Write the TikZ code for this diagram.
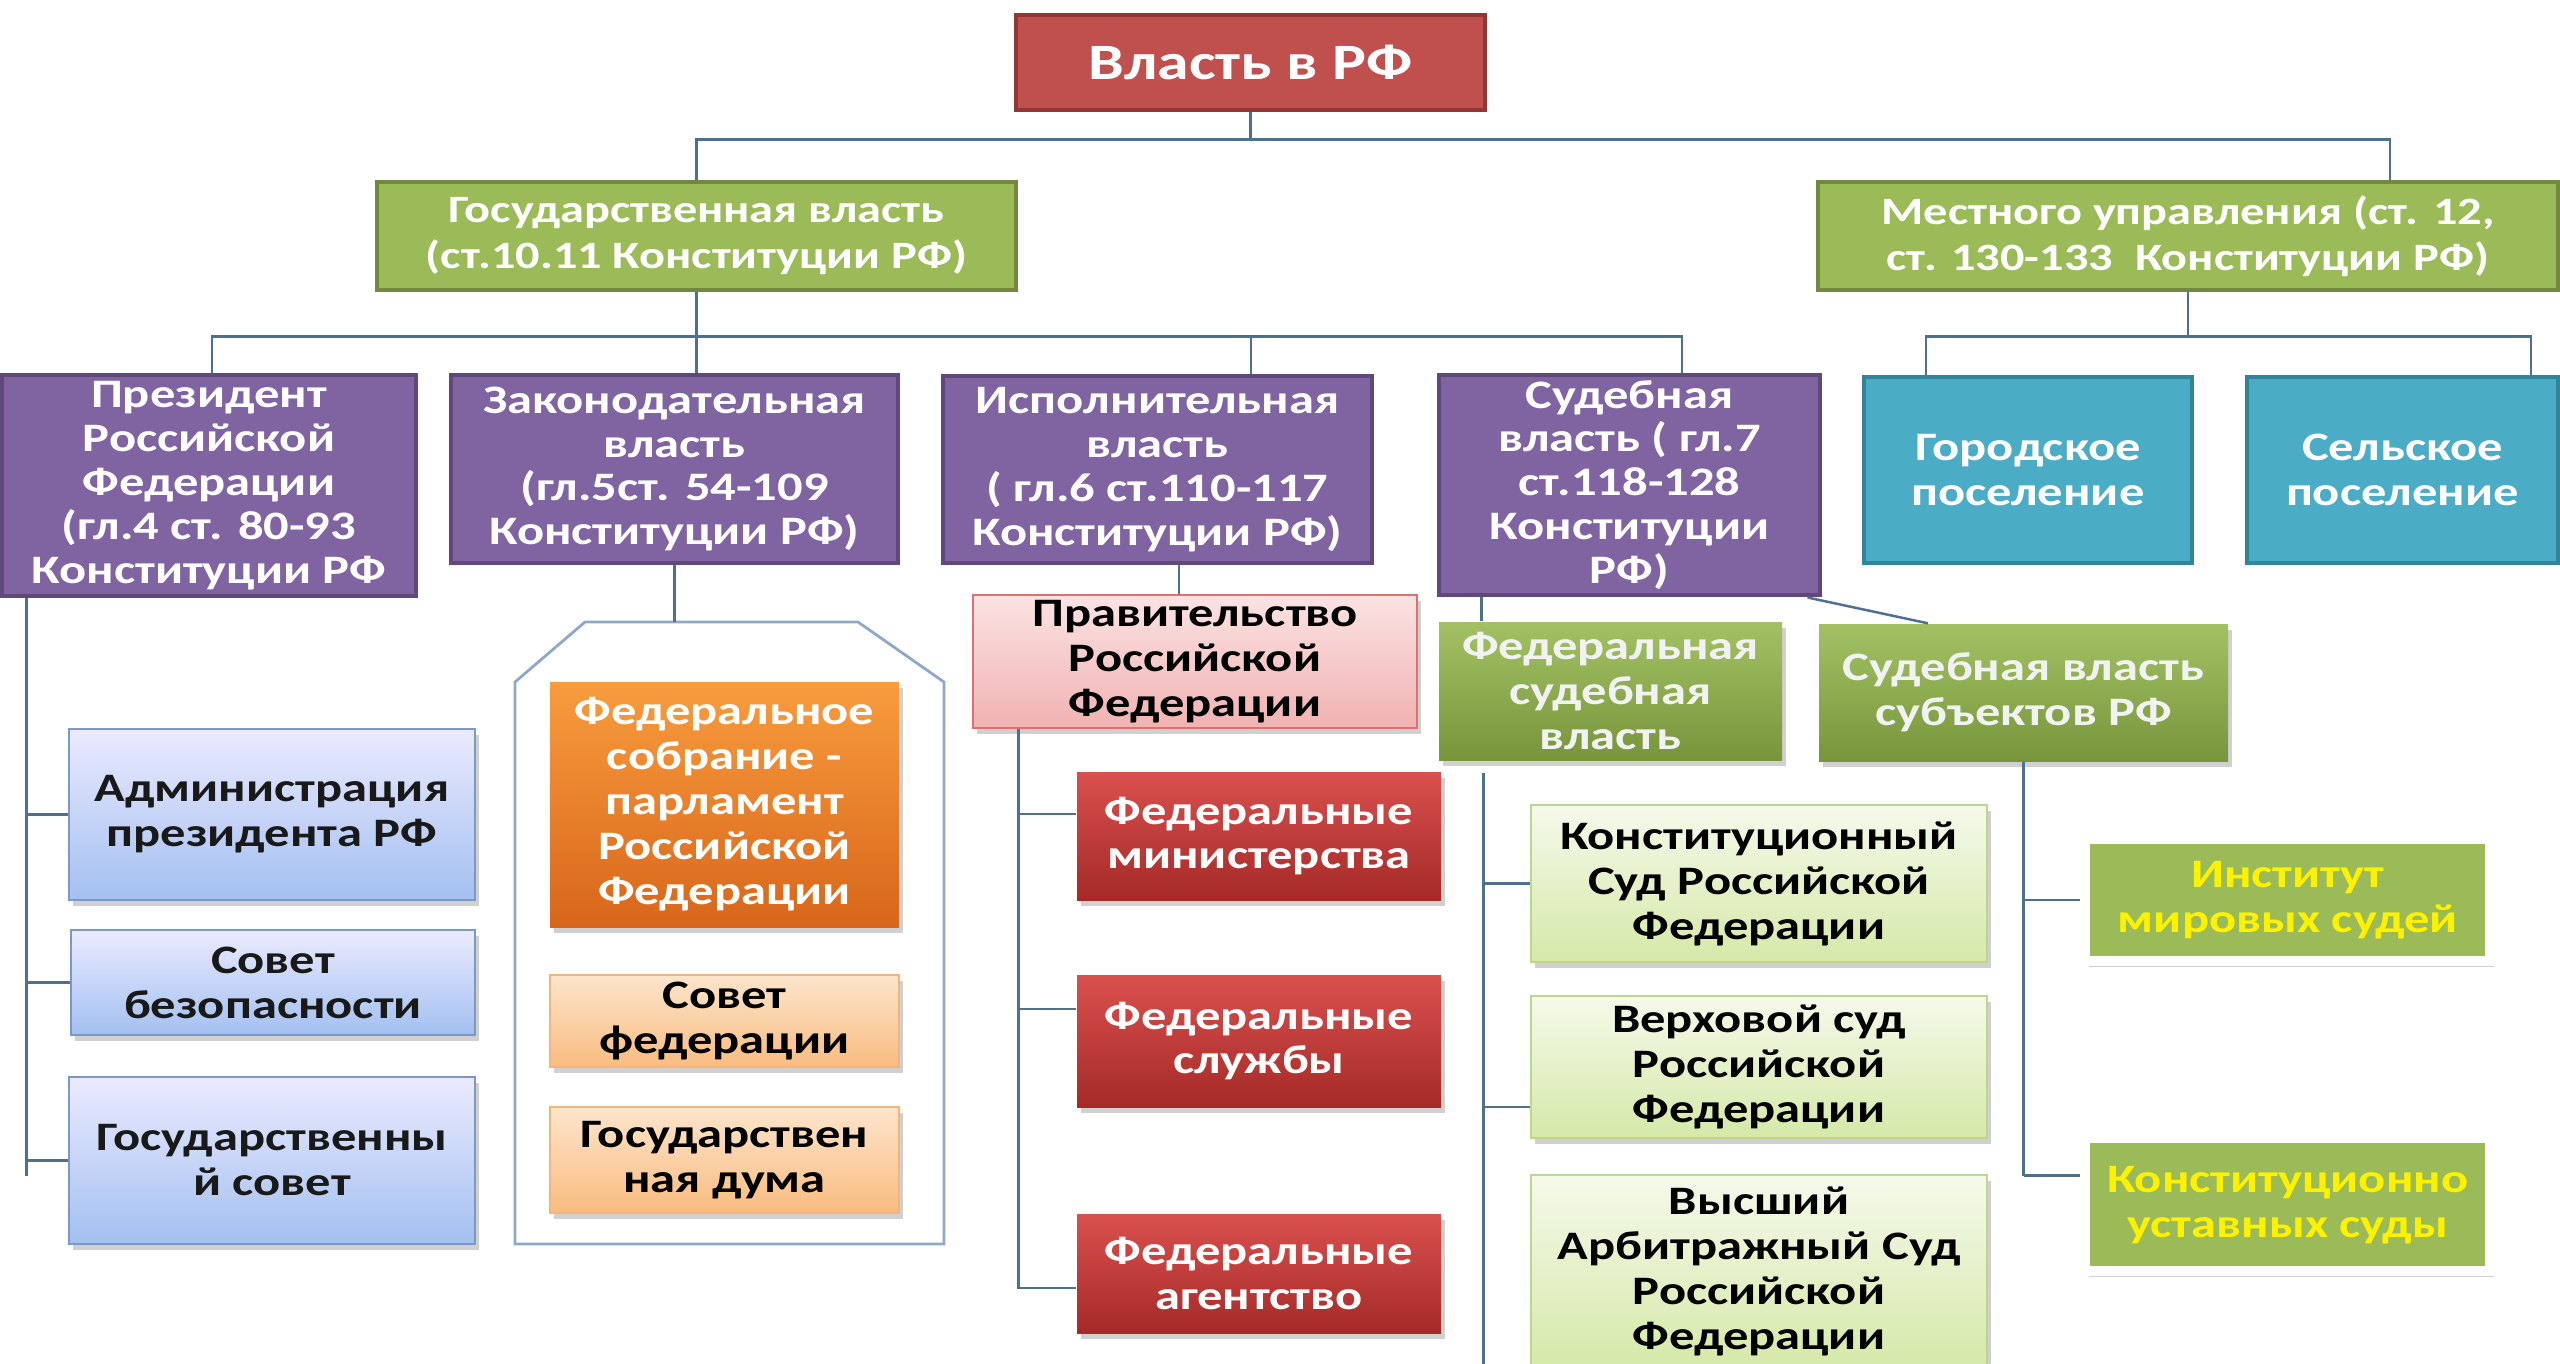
\documentclass[tikz,border=0pt]{standalone}
\usepackage{fontspec}
\setmainfont{Carlito}[FakeStretch=1.25]
\usetikzlibrary{shadows}
\definecolor{linegray}{HTML}{4F6F8F}
\definecolor{titlered}{HTML}{C0504D}
\definecolor{titleedge}{HTML}{943634}
\definecolor{olive}{HTML}{9BBB59}
\definecolor{oliveedge}{HTML}{71893F}
\definecolor{violet}{HTML}{8064A2}
\definecolor{violetedge}{HTML}{5F497A}
\definecolor{teal}{HTML}{4BACC6}
\definecolor{tealedge}{HTML}{31849B}
\definecolor{frameblue}{HTML}{8EA9C8}

\begin{document}
\begin{tikzpicture}[x=0.1mm,y=-0.1mm,
  every node/.style={font=\bfseries,align=center,inner sep=0pt},
  sz/.style 2 args={minimum width=#1cm,minimum height=#2cm},
  conn/.style={draw=linegray,line width=0.7pt},
  shad/.style={drop shadow={shadow xshift=0.4mm,shadow yshift=-0.6mm,opacity=0.3,fill=black!60}},
  headbox/.style={fill=titlered,draw=titleedge,line width=1.4pt,text=white,font=\fontsize{14.5}{16}\selectfont\bfseries},
  levelbox/.style={fill=olive,draw=oliveedge,line width=1.4pt,text=white,font=\fontsize{11}{13}\selectfont\bfseries},
  branchbox/.style={fill=violet,draw=violetedge,line width=1.4pt,text=white,font=\fontsize{11.5}{12.5}\selectfont\bfseries},
  townbox/.style={fill=teal,draw=tealedge,line width=1.4pt,text=white,font=\fontsize{11.5}{13}\selectfont\bfseries},
  lowbox/.style={shad,font=\fontsize{11.5}{12.8}\selectfont\bfseries},
  bluebox/.style={lowbox,top color=blue!8!white,bottom color={rgb,255:red,163;green,192;blue,240},draw={rgb,255:red,124;green,152;blue,196},text=black!90},
  parlbox/.style={lowbox,top color={rgb,255:red,248;green,156;blue,62},bottom color={rgb,255:red,216;green,102;blue,26},text=white},
  chamberbox/.style={lowbox,top color={rgb,255:red,253;green,229;blue,204},bottom color={rgb,255:red,249;green,188;blue,128},draw={rgb,255:red,245;green,181;blue,122},text=black},
  govbox/.style={lowbox,top color={rgb,255:red,251;green,227;blue,227},bottom color={rgb,255:red,241;green,178;blue,178},draw={rgb,255:red,224;green,112;blue,112},text=black},
  agencybox/.style={lowbox,top color={rgb,255:red,217;green,80;blue,78},bottom color={rgb,255:red,165;green,42;blue,39},text=white},
  courtbox/.style={lowbox,top color={rgb,255:red,163;green,193;blue,100},bottom color={rgb,255:red,119;green,150;blue,60},text=white!95!black},
  highbox/.style={lowbox,top color={rgb,255:red,245;green,249;blue,235},bottom color={rgb,255:red,213;green,233;blue,168},draw={rgb,255:red,188;green,214;blue,142},text=black},
  peacebox/.style={lowbox,fill=olive,draw=white,line width=3pt,text=yellow}]

  \useasboundingbox[fill=white] (0,0) rectangle (2560,1363);

  % top
  \node[headbox,sz={4.69}{0.95}] (vlast) at (1250.5,62.5) {Власть в РФ};
  \node[levelbox,sz={6.39}{1.08}] (gos) at (696.5,236) {Государственная власть\\(ст.10.11 Конституции РФ)};
  \node[levelbox,sz={7.40}{1.08}] (mest) at (2188,236) {Местного управления (ст. 12,\\ст. 130-133~ Конституции РФ)};

  % branches of state power
  \node[branchbox,sz={4.14}{2.21}] (pres) at (209,485.5) {Президент\\Российской\\Федерации\\(гл.4 ст. 80-93\\Конституции РФ};
  \node[branchbox,sz={4.47}{1.88}] (zak) at (674.5,469) {Законодательная\\власть\\(гл.5ст. 54-109\\Конституции РФ)};
  \node[branchbox,sz={4.29}{1.87}] (isp) at (1157.5,469.5) {Исполнительная\\власть\\( гл.6 ст.110-117\\Конституции РФ)};
  \node[branchbox,sz={3.81}{2.20}] (sud) at (1629.5,485) {Судебная\\власть ( гл.7\\ст.118-128\\Конституции\\РФ)};
  \node[townbox,sz={3.28}{1.86}] (gor) at (2028,470) {Городское\\поселение};
  \node[townbox,sz={3.11}{1.86}] (sel) at (2402.5,470) {Сельское\\поселение};

  % president
  \node[bluebox,sz={4.06}{1.71}] (adm) at (272,814.5) {Администрация\\президента РФ};
  \node[bluebox,sz={4.04}{1.05}] (sovbez) at (273,982.5) {Совет\\безопасности};
  \node[bluebox,sz={4.06}{1.67}] (gossov) at (272,1160.5) {Государственны\\й совет};

  % parliament
  \draw[frameblue,line width=0.8pt] (515,1244) -- (515,682) -- (585,622) -- (858,622) -- (944,682) -- (944,1244) -- cycle;
  \coordinate (parltop) at (674.5,622);
  \node[parlbox,sz={3.49}{2.45}] (fedsob) at (724.5,804.5) {Федеральное\\собрание -\\парламент\\Российской\\Федерации};
  \node[chamberbox,sz={3.49}{0.92}] (sovfed) at (724.5,1021) {Совет\\федерации};
  \node[chamberbox,sz={3.49}{1.06}] (duma) at (724.5,1160) {Государствен\\ная дума};

  % government
  \node[govbox,sz={4.44}{1.33}] (prav) at (1195,661.5) {Правительство\\Российской\\Федерации};
  \node[agencybox,sz={3.64}{1.28}] (minist) at (1259,836) {Федеральные\\министерства};
  \node[agencybox,sz={3.64}{1.32}] (sluzh) at (1259,1041) {Федеральные\\службы};
  \node[agencybox,sz={3.64}{1.19}] (agent) at (1259,1273.5) {Федеральные\\агентство};

  % courts
  \node[courtbox,sz={3.43}{1.38}] (fedsud) at (1610.5,691) {Федеральная\\судебная\\власть};
  \node[courtbox,sz={4.09}{1.37}] (subj) at (2023.5,692.5) {Судебная власть\\субъектов РФ};
  \node[highbox,sz={4.56}{1.57}] (ks) at (1759,883.5) {Конституционный\\Суд Российской\\Федерации};
  \node[highbox,sz={4.56}{1.42}] (vs) at (1759,1067) {Верховой суд\\Российской\\Федерации};
  \node[highbox,sz={4.56}{1.93}] (vas) at (1759,1271.5) {Высший\\Арбитражный Суд\\Российской\\Федерации};
  \node[peacebox,sz={4.05}{1.22}] (inst) at (2287.7,900) {Институт\\мировых судей};
  \node[peacebox,sz={4.05}{1.33}] (kus) at (2287.7,1204.7) {Конституционно\\уставных суды};

  % connectors
  \draw[conn] (vlast.south) -- ++(0,27) coordinate (b1);
  \draw[conn] (b1) -| (gos.north);
  \draw[conn] (b1) -| ([xshift=2.02cm]mest.north);
  \draw[conn] (gos.south) -- (gos.south |- zak.north);
  \path (gos.south) ++(0,44) coordinate (b2);
  \draw[conn] (b2) -| ([xshift=0.03cm]pres.north);
  \draw[conn] (b2) -| ([xshift=0.935cm]isp.north);
  \draw[conn] (b2) -| ([xshift=0.525cm]sud.north);
  \draw[conn] (mest.south) -- ++(0,44) coordinate (b3);
  \draw[conn] (b3) -| ([xshift=-1.02cm]gor.north);
  \draw[conn] (b3) -| ([xshift=1.285cm]sel.north);

  \coordinate (p1) at ([xshift=0.27cm]pres.south west);
  \draw[conn] (p1) -- ++(0,578);
  \foreach \n in {adm,sovbez,gossov}
    \draw[conn] (p1 |- \n.west) -- (\n.west);

  \draw[conn] (zak.south) -- (parltop);

  \draw[conn] ([xshift=0.215cm]isp.south) -- ([xshift=0.215cm]isp.south |- prav.north);
  \coordinate (p2) at ([xshift=0.46cm]prav.south west);
  \draw[conn] (p2) -- ++(0,560);
  \foreach \n/\dy in {minist/0.22,sluzh/0.32,agent/-0.145}{
    \coordinate (hook) at ([yshift=\dy cm]\n.west);
    \draw[conn] (p2 |- hook) -- (hook);
  }

  \draw[conn] ([xshift=0.45cm]sud.south west) -- ([xshift=0.45cm]sud.south west |- fedsud.north);
  \draw[conn] ([xshift=-0.15cm]sud.south east) -- ([xshift=-0.955cm]subj.north);
  \coordinate (p3) at ([xshift=0.45cm,yshift=-0.12cm]fedsud.south west);
  \draw[conn] (p3) -- ++(0,600);
  \draw[conn] (p3 |- ks.west) -- (ks.west);
  \coordinate (vshook) at ([yshift=-0.4cm]vs.west);
  \draw[conn] (p3 |- vshook) -- (vshook);

  \draw[conn] (subj.south) -- ++(0,414) coordinate (p4);
  \draw[conn] (subj.south |- inst.west) -- (inst.west);
  \draw[conn] (p4) -- (p4 -| kus.west);
\end{tikzpicture}
\end{document}
